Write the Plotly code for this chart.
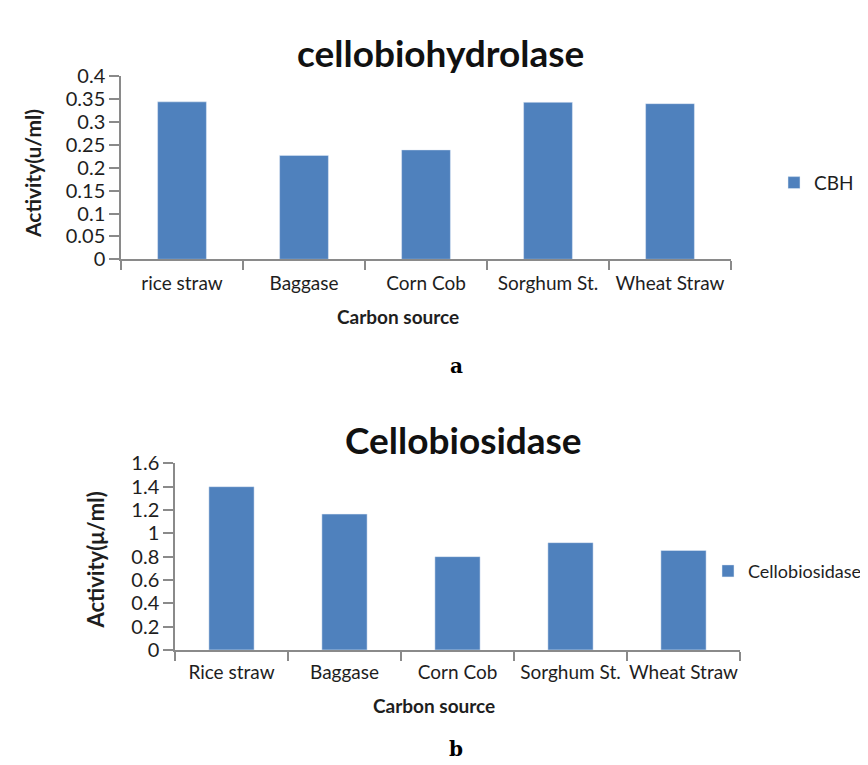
import plotly.graph_objects as go

# ---- data ----
categories_a = ["rice straw", "Baggase", "Corn Cob", "Sorghum St.", "Wheat Straw"]
cbh_values = [0.344, 0.227, 0.239, 0.343, 0.340]

categories_b = ["Rice straw", "Baggase", "Corn Cob", "Sorghum St.", "Wheat Straw"]
cellobiosidase_values = [1.40, 1.165, 0.80, 0.92, 0.853]

W, H = 868, 765
BAR = "#4F81BD"
AXIS = "#8a8a8a"
FONT = "Lato, 'Open Sans', sans-serif"
TXT = "#1e1e1e"


def px(x):
    return x / W


def py(y):
    return 1 - y / H


fig = go.Figure()
fig.add_trace(go.Bar(x=categories_a, y=cbh_values, name="CBH", marker_color=BAR,
                     xaxis="x", yaxis="y", legend="legend", width=0.4))
fig.add_trace(go.Bar(x=categories_b, y=cellobiosidase_values, name="Cellobiosidase",
                     marker_color=BAR, xaxis="x2", yaxis="y2", legend="legend2", width=0.4))

axis_common = dict(showgrid=False, zeroline=False, showline=True, linecolor=AXIS, linewidth=1.5,
                   ticks="outside", tickcolor=AXIS, tickwidth=1.5)
xfont = dict(family=FONT, size=19, color=TXT)
yfont = dict(family=FONT, size=20, color=TXT)

fig.update_layout(
    width=W, height=H, margin=dict(l=0, r=0, t=0, b=0),
    paper_bgcolor="white", plot_bgcolor="white",
    xaxis=dict(domain=[px(113), px(723)], anchor="y", tickson="boundaries", ticklen=9,
               tickangle=0, tickfont=xfont, ticklabelstandoff=6, **axis_common),
    yaxis=dict(domain=[py(246), py(57)], anchor="x", range=[0, 0.4], dtick=0.05, ticklen=10,
               tickfont=yfont, **axis_common),
    xaxis2=dict(domain=[px(167), px(732)], anchor="y2", tickson="boundaries", ticklen=9,
                tickangle=0, tickfont=xfont, ticklabelstandoff=5, **axis_common),
    yaxis2=dict(domain=[py(649.3), py(456.7)], anchor="x2", range=[0, 1.6], dtick=0.2, ticklen=10,
                tickfont=yfont, **axis_common),
    legend=dict(x=px(766), y=py(167), xanchor="left", yanchor="middle",
                font=dict(family=FONT, size=19, color=TXT), bgcolor="rgba(0,0,0,0)"),
    legend2=dict(x=px(700), y=py(568), xanchor="left", yanchor="middle",
                 font=dict(family=FONT, size=18, color=TXT), bgcolor="rgba(0,0,0,0)"),
    showlegend=True,
)


def label(text, x, y, size, family=FONT, angle=0, color=TXT):
    return dict(text=text, x=px(x), y=py(y), xref="paper", yref="paper",
                xanchor="center", yanchor="middle", showarrow=False, textangle=angle,
                font=dict(family=family, size=size, color=color))


ann = [
    label("<b>cellobiohydrolase</b>", 432, 33, 37, color="#111"),
    label("<b>Cellobiosidase</b>", 456, 432, 37, color="#111"),
    label("<b>Carbon source</b>", 390, 305, 19),
    label("<b>Carbon source</b>", 426, 707, 19),
    label("<b>Activity(u/ml)</b>", 24, 158, 21, angle=-90),
    label("<b>Activity(\u03bc/ml)</b>", 88, 557, 22, angle=-90),
    label("<b>a</b>", 449, 356, 20, family="DejaVu Serif", color="#000"),
    label("<b>b</b>", 448, 752, 20, family="DejaVu Serif", color="#000"),
]
fig.update_layout(annotations=ann)

fig.write_html("out.html")
